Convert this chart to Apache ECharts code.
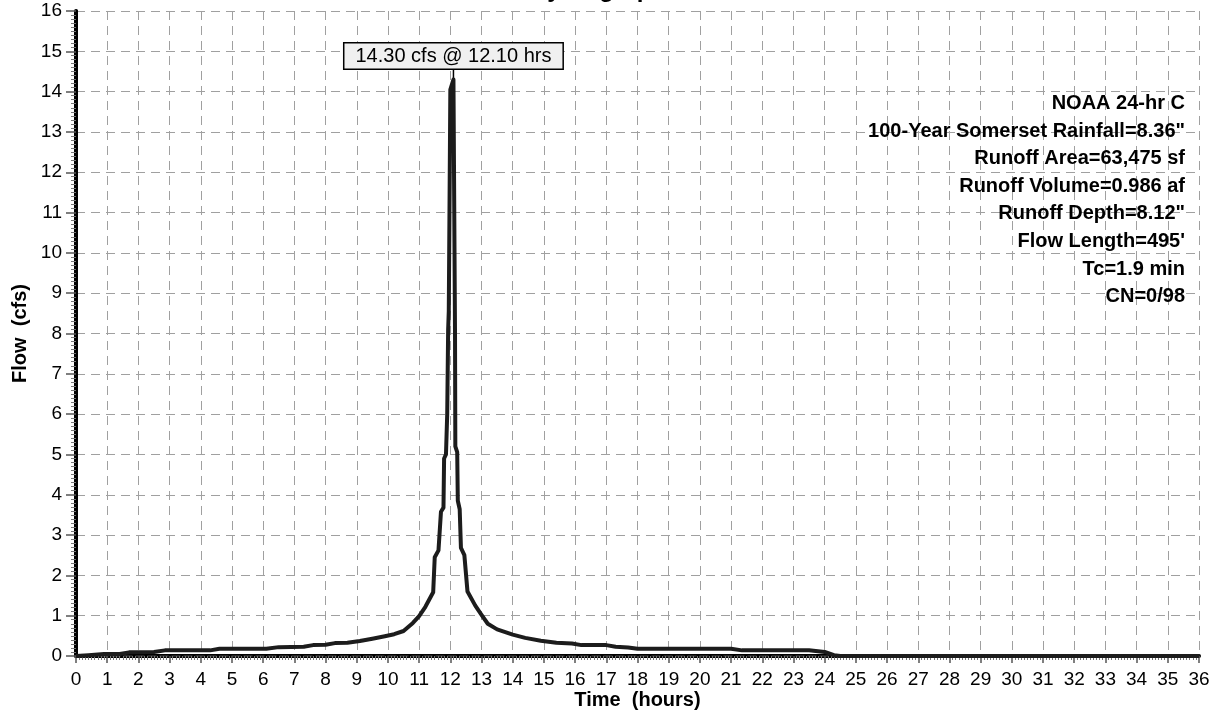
<!DOCTYPE html>
<html>
<head>
<meta charset="utf-8">
<script src="https://cdn.jsdelivr.net/npm/echarts@6/dist/echarts.min.js"></script>
<style>
  html, body { margin: 0; padding: 0; background: #fff; }
  #chart { width: 1214px; height: 710px; }
</style>
</head>
<body>
<div id="chart"></div>
<script>
// hydrograph (hours, cfs)
const timeHrs = [0, 0.4, 0.9, 1.4, 1.7, 2.5, 2.85, 4.3, 4.6, 6.1, 6.5, 7.3, 7.6, 8.0, 8.3, 8.7, 9.1, 9.5, 9.9, 10.2,
    10.5, 10.8, 11.0, 11.2, 11.45, 11.5, 11.62, 11.7, 11.78, 11.8, 11.86, 11.9, 11.93, 11.95, 12.0, 12.1,
    12.15, 12.16, 12.22, 12.24, 12.3, 12.34, 12.45, 12.55, 12.8, 13.0, 13.2, 13.5, 14.0, 14.4, 14.9, 15.4,
    15.9, 16.2, 17.0, 17.3, 17.7, 18.0, 21.0, 21.35, 23.5, 24.0, 24.3, 24.5, 36];
const flowCfs = [0, 0.02, 0.05, 0.05, 0.09, 0.10, 0.14, 0.14, 0.18, 0.18, 0.22, 0.23, 0.27, 0.28, 0.32, 0.33, 0.37, 0.43, 0.49, 0.54,
    0.62, 0.82, 0.99, 1.22, 1.58, 2.45, 2.62, 3.58, 3.68, 4.9, 5.0, 6.0, 8.1, 8.55, 14.05, 14.30,
    8.0, 5.2, 5.06, 3.85, 3.64, 2.68, 2.5, 1.6, 1.25, 1.02, 0.8, 0.66, 0.53, 0.45, 0.38, 0.33,
    0.31, 0.27, 0.27, 0.23, 0.21, 0.18, 0.18, 0.14, 0.14, 0.10, 0.02, 0, 0];

const peakTime = 12.10;
const peakFlow = 14.30;

const noteLines = [
    'NOAA 24-hr C',
    '100-Year Somerset Rainfall=8.36"',
    'Runoff Area=63,475 sf',
    'Runoff Volume=0.986 af',
    'Runoff Depth=8.12"',
    "Flow Length=495'",
    'Tc=1.9 min',
    'CN=0/98'
];

const FONT = '"Liberation Sans", Arial, sans-serif';
const chart = echarts.init(document.getElementById('chart'));

const gridDash = { color: '#a0a0a0', width: 1, type: [9, 6] };

const option = {
    animation: false,
    backgroundColor: '#fff',
    grid: { left: 76, right: 15, top: 11, bottom: 54, outerBoundsMode: 'none', containLabel: false },
    xAxis: [{
        type: 'value', min: 0, max: 36, interval: 1,
        name: 'Time  (hours)', nameLocation: 'middle', nameGap: 34, nameMoveOverlap: false,
        nameTextStyle: { fontFamily: FONT, fontSize: 20, fontWeight: 'bold', color: '#000' },
        axisLine: { onZero: false, lineStyle: { color: '#000', width: 4 } },
        axisTick: { length: 7, lineStyle: { color: '#555', width: 1.5 } },
        minorTick: { show: true, splitNumber: 10, length: 4, lineStyle: { color: '#777', width: 1 } },
        axisLabel: { fontFamily: FONT, fontSize: 19, color: '#000', margin: 14 },
        splitLine: { show: true, lineStyle: gridDash }
    }, {
        type: 'value', min: 0, max: 36, position: 'top',
        axisLine: { show: true, lineStyle: { color: '#333', width: 1.5, type: [8, 4] } },
        axisTick: { show: false }, axisLabel: { show: false }, splitLine: { show: false }
    }],
    yAxis: [{
        type: 'value', min: 0, max: 16, interval: 1,
        name: 'Flow  (cfs)', nameLocation: 'middle', nameGap: 46, nameMoveOverlap: false,
        nameTextStyle: { fontFamily: FONT, fontSize: 20, fontWeight: 'bold', color: '#000' },
        axisLine: { show: true, onZero: false, lineStyle: { color: '#000', width: 4 } },
        axisTick: { show: true, length: 10, lineStyle: { color: '#555', width: 1.5 } },
        minorTick: { show: true, splitNumber: 10, length: 5, lineStyle: { color: '#777', width: 1 } },
        axisLabel: { fontFamily: FONT, fontSize: 19, color: '#000', margin: 14 },
        splitLine: { show: true, lineStyle: gridDash }
    }, {
        type: 'value', min: 0, max: 16, position: 'right',
        axisLine: { show: true, lineStyle: { color: '#000', width: 3 } },
        axisTick: { show: false }, axisLabel: { show: false }, splitLine: { show: false }
    }],
    series: [{
        type: 'line',
        data: timeHrs.map((t, i) => [t, flowCfs[i]]),
        showSymbol: false,
        lineStyle: { color: '#1c1c1c', width: 4, join: 'round' },
        z: 5,
        markPoint: {
            silent: true,
            data: [{
                coord: [peakTime, peakFlow],
                symbol: 'rect',
                symbolSize: [1.5, 11],
                symbolOffset: [0, -5.5],
                itemStyle: { color: '#000' },
                label: {
                    show: true, position: 'top', distance: 0,
                    formatter: `${peakFlow.toFixed(2)} cfs @ ${peakTime.toFixed(2)} hrs`,
                    fontFamily: FONT, fontSize: 20, color: '#000', lineHeight: 19,
                    backgroundColor: '#f0f0f0', borderColor: '#000', borderWidth: 1.5,
                    padding: [3, 11]
                }
            }]
        }
    }],
    graphic: [
        {
            type: 'text', x: 598, y: 2, silent: true,
            style: { text: 'Hydrograph', font: `bold 24px ${FONT}`, fill: '#000', align: 'center', verticalAlign: 'bottom' }
        },
        ...noteLines.map((t, i) => ({
            type: 'text', x: 1185, y: 103.5 + i * 27.6, silent: true, z: 10,
            style: { text: t, font: `bold 20px ${FONT}`, fill: '#000', align: 'right', verticalAlign: 'middle' }
        }))
    ]
};

chart.setOption(option);
</script>
</body>
</html>
